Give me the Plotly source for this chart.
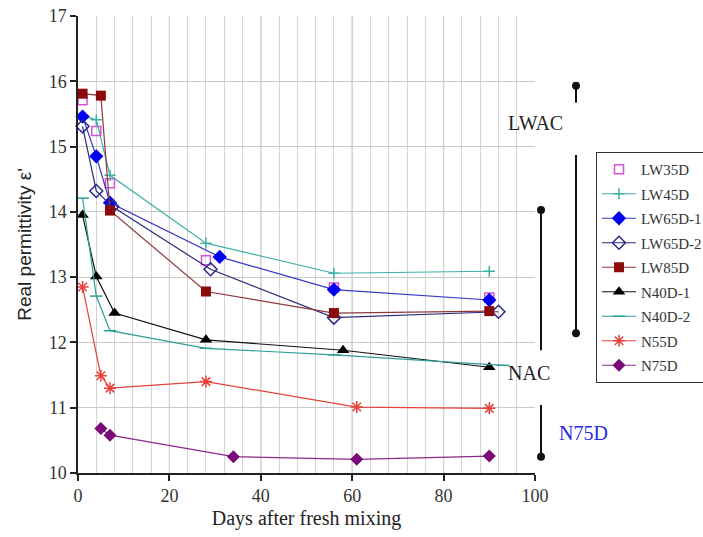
import plotly.graph_objects as go

# ---- data ----
lw35d_x = [1, 4, 7, 28, 56, 90]
lw35d_y = [15.71, 15.24, 14.44, 13.26, 12.84, 12.69]
lw45d_x = [1, 4, 7, 28, 56, 90]
lw45d_y = [15.47, 15.41, 14.56, 13.52, 13.06, 13.09]
lw65d1_x = [1, 4, 7, 31, 56, 90]
lw65d1_y = [15.46, 14.85, 14.14, 13.31, 12.81, 12.65]
lw65d2_x = [1, 4, 7.5, 29, 56, 92]
lw65d2_y = [15.31, 14.32, 14.08, 13.12, 12.38, 12.47]
lw85d_x = [1, 5, 7, 28, 56, 90]
lw85d_y = [15.81, 15.78, 14.02, 12.78, 12.45, 12.48]
n40d1_x = [1, 4, 8, 28, 58, 90]
n40d1_y = [13.95, 13.01, 12.45, 12.04, 11.88, 11.62]
n40d2_x = [1, 4, 7, 28, 56, 93]
n40d2_y = [14.21, 12.71, 12.18, 11.91, 11.81, 11.65]
n55d_x = [1, 5, 7, 28, 61, 90]
n55d_y = [12.85, 11.49, 11.30, 11.40, 11.01, 10.99]
n75d_x = [5, 7, 34, 61, 90]
n75d_y = [10.68, 10.58, 10.25, 10.21, 10.26]

x_ticks = [0, 20, 40, 60, 80, 100]
y_ticks = [10, 11, 12, 13, 14, 15, 16, 17]
x_minor_grid = [v for v in range(4, 100, 4)]
y_minor_grid = [11, 12, 13, 14, 15, 16]
x_major_grid = [20, 40, 60, 80]

FONT = "'Liberation Serif', 'Times New Roman', serif"
SANS = "'Liberation Sans', Arial, sans-serif"

series = [
    ("LW35D", lw35d_x, lw35d_y, "markers", "square-open", 9, "#D94FD9", "#D94FD9", 1.4),
    ("LW45D", lw45d_x, lw45d_y, "lines+markers", "cross-thin", 8, "#3FAFA6", "#3FAFA6", 1.2),
    ("LW65D-1", lw65d1_x, lw65d1_y, "lines+markers", "diamond", 11, "#0000F0", "#3535C8", 1.2),
    ("LW65D-2", lw65d2_x, lw65d2_y, "lines+markers", "diamond-open", 10, "#2A2A8A", "#2A2A7A", 1.2),
    ("LW85D", lw85d_x, lw85d_y, "lines+markers", "square", 10, "#8B0A0A", "#8B3A3A", 1.2),
    ("N40D-1", n40d1_x, n40d1_y, "lines+markers", "triangle-up", 11, "#000000", "#111111", 1.2),
    ("N40D-2", n40d2_x, n40d2_y, "lines+markers", "line-ew", 9, "#2E9E96", "#2E9E96", 1.2),
    ("N55D", n55d_x, n55d_y, "lines+markers", "asterisk", 10, "#E8413A", "#E8413A", 1.2),
    ("N75D", n75d_x, n75d_y, "lines+markers", "diamond", 10, "#7A0A7A", "#8A2A8A", 1.2),
]

fig = go.Figure()
for name, xs, ys, mode, sym, size, mcol, lcol, lw in series:
    open_sym = sym.endswith("-open") or sym.startswith("line") or sym in ("asterisk", "cross-thin")
    fig.add_trace(go.Scatter(
        x=xs, y=ys, name=name, mode=mode, legendgroup=name,
        line=dict(color=lcol, width=lw),
        marker=dict(symbol=sym, size=size, color=mcol,
                    line=dict(color=mcol, width=1.5 if open_sym else 0)),
        cliponaxis=False,
    ))

shapes = []
for gx in x_major_grid:
    shapes.append(dict(type="line", xref="x", yref="paper", x0=gx, x1=gx, y0=0, y1=1,
                       line=dict(color="#B5B5B5", width=1.2), layer="below"))

def px2paper(px):
    return (px - 78) / 457.0

def vline(xpx, ya, yb):
    shapes.append(dict(type="line", xref="paper", yref="y", x0=px2paper(xpx), x1=px2paper(xpx),
                       y0=ya, y1=yb, line=dict(color="#111111", width=2)))

def dot(xpx, yv):
    shapes.append(dict(type="circle", xref="paper", yref="y", xsizemode="pixel", ysizemode="pixel",
                       xanchor=px2paper(xpx), yanchor=yv, x0=-4, x1=4, y0=-4, y1=4,
                       fillcolor="#111111", line=dict(color="#111111", width=0)))

# LWAC bracket
vline(576, 15.93, 15.67)
dot(576, 15.93)
vline(576, 14.87, 12.14)
dot(576, 12.14)
# NAC bracket
vline(541, 14.03, 11.88)
dot(541, 14.03)
vline(541, 11.04, 10.25)
dot(541, 10.25)

annotations = [
    dict(text="LWAC", xref="paper", yref="y", x=px2paper(565), y=15.36, showarrow=False,
         font=dict(family=FONT, size=20, color="#222222")),
    dict(text="NAC", xref="paper", yref="y", x=px2paper(552), y=11.53, showarrow=False,
         font=dict(family=FONT, size=20, color="#222222")),
    dict(text="N75D", xref="paper", yref="y", x=px2paper(610), y=10.61, showarrow=False,
         font=dict(family=FONT, size=20, color="#2A2AE0")),
]

fig.update_layout(
    width=703, height=537,
    margin=dict(l=78, r=168, t=16, b=64, autoexpand=False),
    paper_bgcolor="white", plot_bgcolor="white",
    font=dict(family=FONT, color="#333333"),
    showlegend=True,
    legend=dict(x=px2paper(596), y=(473 - 152) / 457.0, xanchor="left", yanchor="top",
                bordercolor="#333333", borderwidth=1, bgcolor="white",
                font=dict(family=FONT, size=15, color="#333333"),
                itemwidth=34, tracegroupgap=2, traceorder="grouped"),
    shapes=shapes,
    annotations=annotations,
)
fig.update_xaxes(
    range=[0, 100], tickmode="array", tickvals=x_ticks,
    showgrid=False, zeroline=False,
    showline=True, linecolor="#222222", linewidth=1.5,
    ticks="outside", ticklen=6, tickcolor="#222222", tickwidth=1.5,
    tickfont=dict(family=FONT, size=18, color="#333333"),
    title=dict(text="Days after fresh mixing", font=dict(family=FONT, size=20, color="#222222"), standoff=6),
    minor=dict(tickmode="array", tickvals=x_minor_grid, showgrid=True, gridcolor="#D4D4D4", gridwidth=1),
)
fig.update_yaxes(
    range=[10, 17], tickmode="array", tickvals=y_ticks,
    showgrid=False, zeroline=False,
    showline=True, linecolor="#222222", linewidth=1.5,
    ticks="outside", ticklen=6, tickcolor="#222222", tickwidth=1.5,
    tickfont=dict(family=FONT, size=18, color="#333333"),
    title=dict(text="Real permittivity ε'", font=dict(family=SANS, size=19, color="#222222"), standoff=12),
    minor=dict(tickmode="array", tickvals=y_minor_grid, showgrid=True, gridcolor="#C8C8C8", gridwidth=1.2),
)

fig.write_html("out.html")
